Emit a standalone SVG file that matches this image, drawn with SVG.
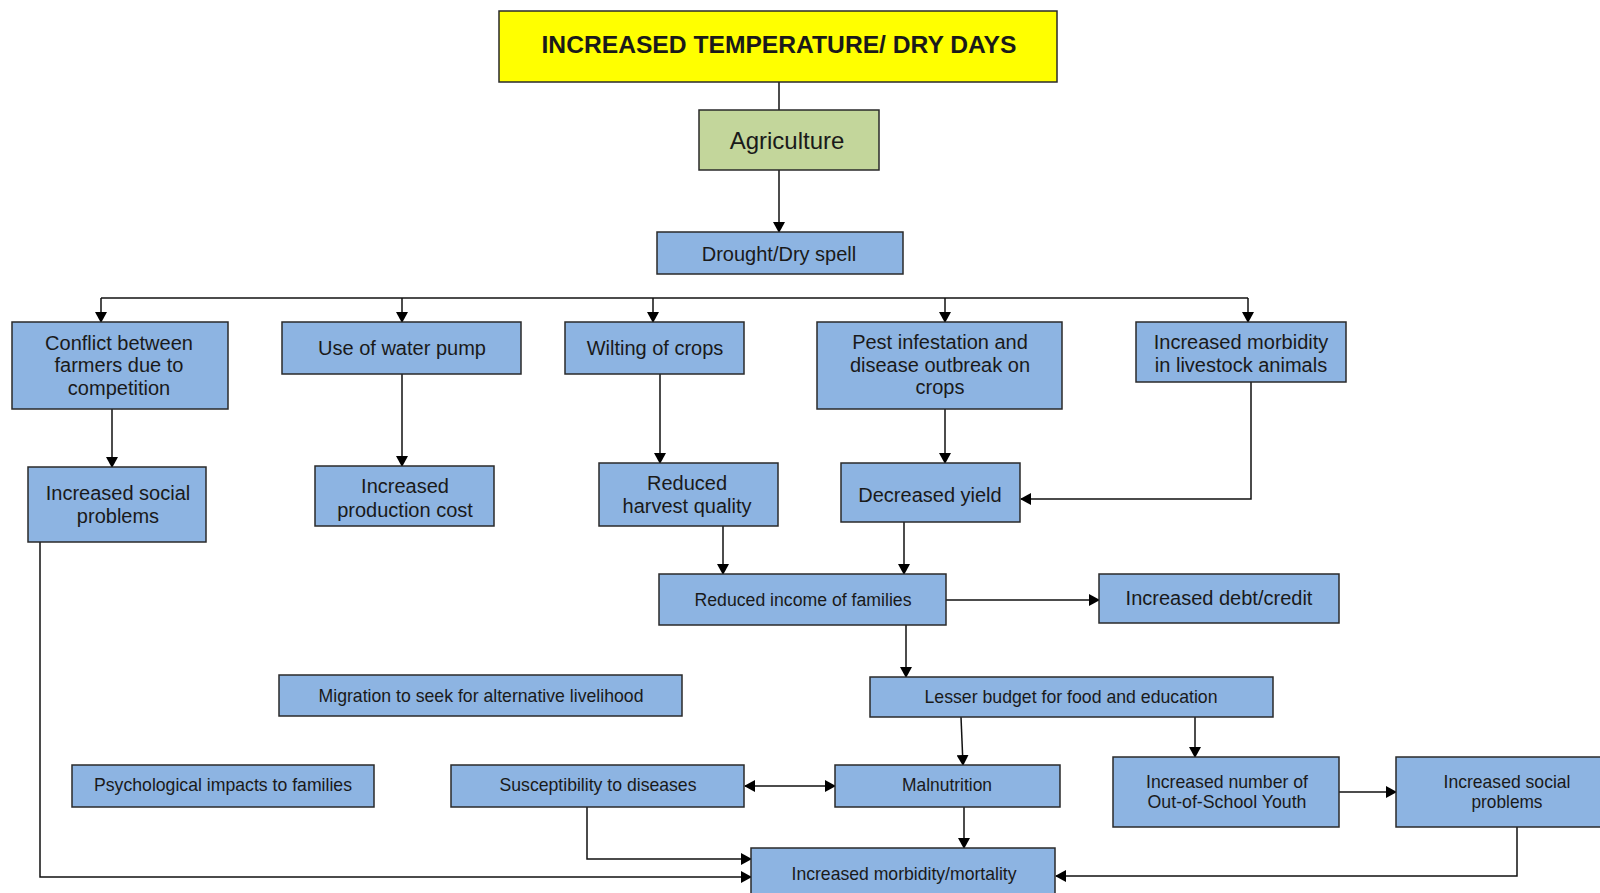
<svg xmlns="http://www.w3.org/2000/svg" width="1600" height="893" viewBox="0 0 1600 893">
  <style>
    .box { fill: #8db4e2; stroke: #2a2a2a; stroke-width: 1.5; }
    .title { fill: #ffff00; stroke: #2a2a2a; stroke-width: 1.5; }
    .sector { fill: #c3d69b; stroke: #2a2a2a; stroke-width: 1.5; }
    text { font-family: "Liberation Sans", Arial, sans-serif; fill: #1a1a1a; text-anchor: middle; }
    .t20 { font-size: 20px; }
    .t18 { font-size: 18px; }
    .nar { font-family: "Liberation Sans Narrow", "Liberation Sans", Arial, sans-serif; font-size: 19px; }
    .link { fill: none; stroke: #111; stroke-width: 1.5; }
    .arr { marker-end: url(#head); }
  </style>
  <defs>
    <marker id="head" markerUnits="userSpaceOnUse" markerWidth="11" markerHeight="12" refX="10" refY="6" orient="auto-start-reverse" viewBox="0 0 11 12">
      <path d="M0,0 L11,6 L0,12 z" fill="#000"/>
    </marker>
  </defs>

  <rect width="1600" height="893" fill="#ffffff"/>

  <!-- connectors -->
  <g id="connectors">
    <line class="link" x1="779" y1="82" x2="779" y2="110"/>
    <line class="link arr" x1="779" y1="170" x2="779" y2="232"/>
    <line class="link" x1="101" y1="298" x2="1248" y2="298"/>
    <line class="link arr" x1="101" y1="298" x2="101" y2="322"/>
    <line class="link arr" x1="402" y1="298" x2="402" y2="322"/>
    <line class="link arr" x1="653" y1="298" x2="653" y2="322"/>
    <line class="link arr" x1="945" y1="298" x2="945" y2="322"/>
    <line class="link arr" x1="1248" y1="298" x2="1248" y2="322"/>
    <line class="link arr" x1="112" y1="409" x2="112" y2="467"/>
    <line class="link arr" x1="402" y1="374" x2="402" y2="466"/>
    <line class="link arr" x1="660" y1="374" x2="660" y2="463"/>
    <line class="link arr" x1="945" y1="409" x2="945" y2="463"/>
    <polyline class="link arr" points="1251,382 1251,499 1021,499"/>
    <line class="link arr" x1="723" y1="526" x2="723" y2="574"/>
    <line class="link arr" x1="904" y1="522" x2="904" y2="574"/>
    <line class="link arr" x1="946" y1="600" x2="1099" y2="600"/>
    <line class="link arr" x1="906" y1="625" x2="906" y2="677"/>
    <line class="link arr" x1="961" y1="717" x2="963" y2="765"/>
    <line class="link arr" x1="1195" y1="717" x2="1195" y2="757"/>
    <line class="link arr" x1="745" y1="786" x2="835" y2="786" marker-start="url(#head)"/>
    <line class="link arr" x1="1339" y1="792" x2="1396" y2="792"/>
    <line class="link arr" x1="964" y1="807" x2="964" y2="848"/>
    <polyline class="link arr" points="587,807 587,859 751,859"/>
    <polyline class="link arr" points="40,542 40,877 751,877"/>
    <polyline class="link arr" points="1517,827 1517,876 1056,876"/>
  </g>

  <g id="n-title">
    <rect class="title" x="499" y="11" width="558" height="71"/>
    <text x="779" y="53" style="font-size:24px;font-weight:bold" textLength="475" lengthAdjust="spacingAndGlyphs">INCREASED TEMPERATURE/ DRY DAYS</text>
  </g>
  <g id="n-agriculture">
    <rect class="sector" x="699" y="110" width="180" height="60"/>
    <text x="787" y="149" style="font-size:24px">Agriculture</text>
  </g>
  <g id="n-drought">
    <rect class="box" x="657" y="232" width="246" height="42"/>
    <text class="t20" x="779" y="261">Drought/Dry spell</text>
  </g>

  <g id="n-conflict">
    <rect class="box" x="12" y="322" width="216" height="87"/>
    <text class="t20" x="119" y="350">Conflict between</text>
    <text class="t20" x="119" y="372">farmers due to</text>
    <text class="t20" x="119" y="395">competition</text>
  </g>
  <g id="n-pump">
    <rect class="box" x="282" y="322" width="239" height="52"/>
    <text class="t20" x="402" y="355">Use of water pump</text>
  </g>
  <g id="n-wilting">
    <rect class="box" x="565" y="322" width="179" height="52"/>
    <text class="t20" x="655" y="355">Wilting of crops</text>
  </g>
  <g id="n-pest">
    <rect class="box" x="817" y="322" width="245" height="87"/>
    <text class="t20" x="940" y="349">Pest infestation and</text>
    <text class="t20" x="940" y="372">disease outbreak on</text>
    <text class="t20" x="940" y="394">crops</text>
  </g>
  <g id="n-livestock">
    <rect class="box" x="1136" y="322" width="210" height="60"/>
    <text class="t20" x="1241" y="349">Increased morbidity</text>
    <text class="t20" x="1241" y="372">in livestock animals</text>
  </g>

  <g id="n-social-left">
    <rect class="box" x="28" y="467" width="178" height="75"/>
    <text class="t20" x="118" y="500">Increased social</text>
    <text class="t20" x="118" y="523">problems</text>
  </g>
  <g id="n-cost">
    <rect class="box" x="315" y="466" width="179" height="60"/>
    <text class="t20" x="405" y="493">Increased</text>
    <text class="t20" x="405" y="517">production cost</text>
  </g>
  <g id="n-quality">
    <rect class="box" x="599" y="463" width="179" height="63"/>
    <text class="t20" x="687" y="490">Reduced</text>
    <text class="t20" x="687" y="513">harvest quality</text>
  </g>
  <g id="n-yield">
    <rect class="box" x="841" y="463" width="179" height="59"/>
    <text class="t20" x="930" y="502">Decreased yield</text>
  </g>

  <g id="n-income">
    <rect class="box" x="659" y="574" width="287" height="51"/>
    <text x="803" y="606" style="font-size:18px" textLength="217" lengthAdjust="spacingAndGlyphs">Reduced income of families</text>
  </g>
  <g id="n-debt">
    <rect class="box" x="1099" y="574" width="240" height="49"/>
    <text class="t20" x="1219" y="605">Increased debt/credit</text>
  </g>

  <g id="n-migration">
    <rect class="box" x="279" y="675" width="403" height="41"/>
    <text class="nar" x="481" y="702" textLength="325" lengthAdjust="spacingAndGlyphs">Migration to seek for alternative livelihood</text>
  </g>
  <g id="n-budget">
    <rect class="box" x="870" y="677" width="403" height="40"/>
    <text class="nar" x="1071" y="703" textLength="293" lengthAdjust="spacingAndGlyphs">Lesser budget for food and education</text>
  </g>

  <g id="n-psych">
    <rect class="box" x="72" y="765" width="302" height="42"/>
    <text class="nar" x="223" y="791" textLength="258" lengthAdjust="spacingAndGlyphs">Psychological impacts to families</text>
  </g>
  <g id="n-susceptibility">
    <rect class="box" x="451" y="765" width="293" height="42"/>
    <text class="nar" x="598" y="791" textLength="197" lengthAdjust="spacingAndGlyphs">Susceptibility to diseases</text>
  </g>
  <g id="n-malnutrition">
    <rect class="box" x="835" y="765" width="225" height="42"/>
    <text class="nar" x="947" y="791" textLength="90" lengthAdjust="spacingAndGlyphs">Malnutrition</text>
  </g>
  <g id="n-outofschool">
    <rect class="box" x="1113" y="757" width="226" height="70"/>
    <text class="nar" x="1227" y="788" textLength="162" lengthAdjust="spacingAndGlyphs">Increased number of</text>
    <text class="nar" x="1227" y="808" textLength="159" lengthAdjust="spacingAndGlyphs">Out-of-School Youth</text>
  </g>
  <g id="n-social-right">
    <rect class="box" x="1396" y="757" width="210" height="70"/>
    <text class="nar" x="1507" y="788" textLength="127" lengthAdjust="spacingAndGlyphs">Increased social</text>
    <text class="nar" x="1507" y="808" textLength="71" lengthAdjust="spacingAndGlyphs">problems</text>
  </g>

  <g id="n-morbidity">
    <rect class="box" x="751" y="848" width="304" height="60"/>
    <text class="nar" x="904" y="880" textLength="225" lengthAdjust="spacingAndGlyphs">Increased morbidity/mortality</text>
  </g>
</svg>
